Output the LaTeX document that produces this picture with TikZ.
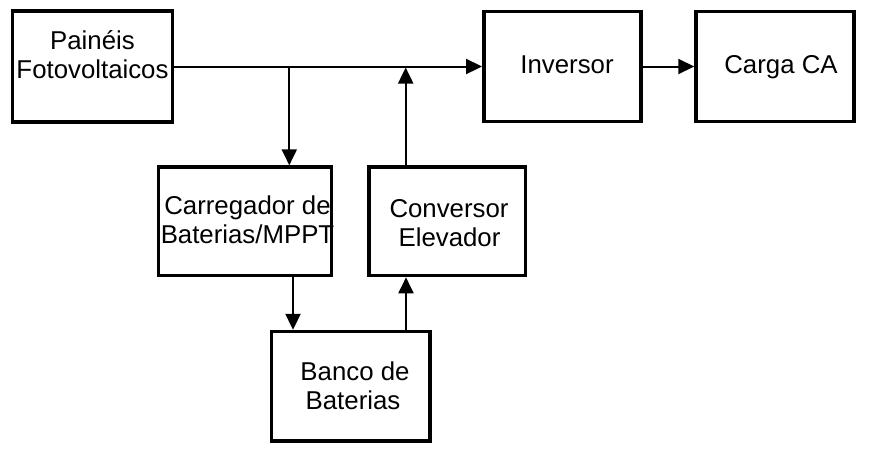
\documentclass[tikz,border=0pt]{standalone}
\usepackage{fontspec}
\setmainfont{Liberation Sans}
\usetikzlibrary{arrows.meta}
\begin{document}
\begin{tikzpicture}[x=1pt,y=-1pt,
  blockbox/.style={draw=black,line width=3.5pt,rectangle,inner sep=0pt,fill=white},
  lbl/.style={inner sep=0pt,anchor=base,font=\fontsize{25.8}{29}\selectfont},
  conn/.style={draw=black,line width=2pt,-{Triangle[length=16pt,width=15pt]}},
  wire/.style={draw=black,line width=2pt}]
\useasboundingbox (0,0) rectangle (870,467);
% boxes
\node[blockbox,minimum width=160pt,minimum height=111pt] (pv) at (92.5,66.5) {};
\node[blockbox,minimum width=157pt,minimum height=110pt] (inv) at (562.3,66.5) {};
\node[blockbox,minimum width=158pt,minimum height=110pt] (carga) at (775,66.5) {};
\node[blockbox,minimum width=173.4pt,minimum height=108.5pt] (carreg) at (245,221.3) {};
\node[blockbox,minimum width=156.7pt,minimum height=108.5pt] (conv) at (447.2,221.3) {};
\node[blockbox,minimum width=158.3pt,minimum height=109.3pt] (banco) at (350.8,386.2) {};
% labels
\node[lbl] (pv1) at (92.5,49) {Painéis};
\node[lbl] (pv2) at (92.5,78) {Fotovoltaicos};
\node[lbl] (inv1) at (567,73.3) {Inversor};
\node[lbl] (carga1) at (781,73) {Carga CA};
\node[lbl] (carreg1) at (247.5,214) {Carregador de};
\node[lbl] (carreg2) at (247.5,243) {Baterias/MPPT};
\node[lbl] (conv1) at (449,217.3) {Conversor};
\node[lbl] (conv2) at (449.5,246.7) {Elevador};
\node[lbl] (banco1) at (355,380) {Banco de};
\node[lbl] (banco2) at (353,409.3) {Baterias};
% junction coordinates
\coordinate (j1) at (289.3,66.5);
\coordinate (j2) at (405.7,67.5);
\coordinate (c3) at (293,0);
\coordinate (c4) at (406,0);
% connectors
\draw[conn] (pv.east) -- (inv.west);
\draw[conn] (inv.east) -- (carga.west);
\draw[conn] (j1) -- (j1 |- carreg.north);
\draw[conn] (j2 |- conv.north) -- (j2);
\draw[conn] (c3 |- carreg.south) -- (c3 |- banco.north);
\draw[conn] (c4 |- banco.north) -- (c4 |- conv.south);
\end{tikzpicture}
\end{document}
